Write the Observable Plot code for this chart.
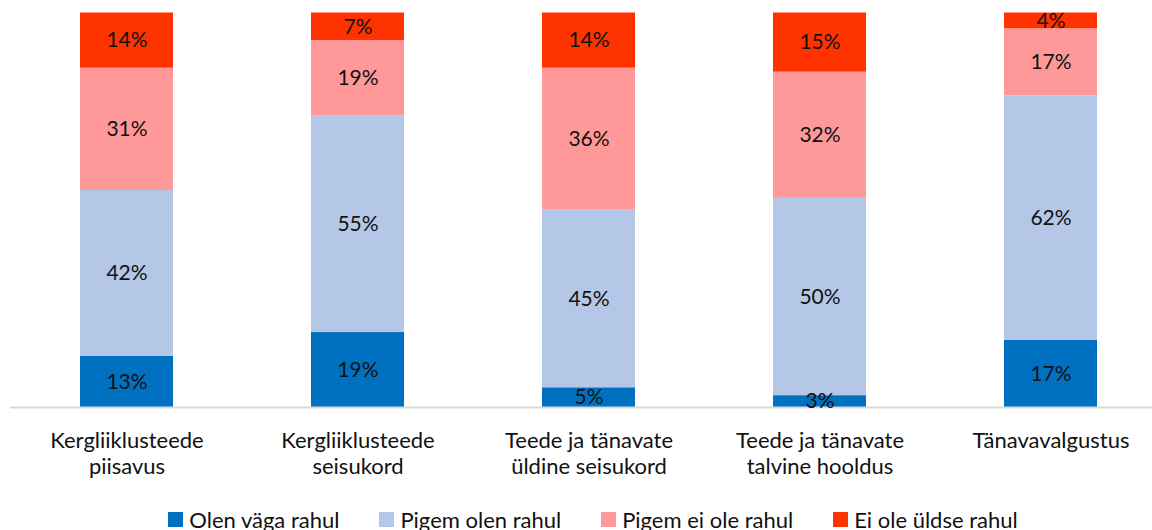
<!DOCTYPE html>
<html>
<head>
<meta charset="utf-8">
<script src="https://cdn.jsdelivr.net/npm/d3@7"></script>
<script src="https://cdn.jsdelivr.net/npm/@observablehq/plot@0.6"></script>
<style>
  html, body { margin: 0; padding: 0; background: #fff; }
  body { width: 1152px; height: 530px; overflow: hidden; font-family: Lato, "Open Sans", sans-serif; }
  #legend { display: flex; justify-content: center; gap: 40px; font-size: 22px; color: #111; margin-top: 7px; padding-left: 34px; line-height: 1.15; }
  #legend .item { display: flex; align-items: center; gap: 6px; }
  #legend .sw { width: 15px; height: 15px; display: inline-block; }
</style>
</head>
<body>
<div id="chart"></div>
<div id="legend"></div>
<script>
const categories = [
  "Kergliiklusteede\npiisavus",
  "Kergliiklusteede\nseisukord",
  "Teede ja tänavate\nüldine seisukord",
  "Teede ja tänavate\ntalvine hooldus",
  "Tänavavalgustus"
];
const seriesNames = ["Olen väga rahul", "Pigem olen rahul", "Pigem ei ole rahul", "Ei ole üldse rahul"];
const olenVagaRahul   = [13, 19, 5, 3, 17];
const pigemOlenRahul  = [42, 55, 45, 50, 62];
const pigemEiOleRahul = [31, 19, 36, 32, 17];
const eiOleUldseRahul = [14, 7, 14, 15, 4];
const seriesColors = ["#0070C0", "#B4C7E7", "#FF9999", "#FF3300"];

const seriesValues = [olenVagaRahul, pigemOlenRahul, pigemEiOleRahul, eiOleUldseRahul];
const data = [];
seriesNames.forEach((s, i) => {
  categories.forEach((c, j) => {
    data.push({category: c, series: s, value: seriesValues[i][j]});
  });
});

const H = 500;
const plot = Plot.plot({
  width: 1152,
  height: H,
  marginTop: 12.5,
  marginBottom: H - 407,
  marginLeft: 10,
  marginRight: 0,
  style: {fontFamily: "Lato, 'Open Sans', sans-serif", background: "#fff", color: "#111"},
  x: {domain: categories, range: [10.4, 1166], padding: 0, label: null},
  y: {domain: [0, 100], axis: null},
  color: {domain: seriesNames, range: seriesColors},
  marks: [
    Plot.barY(data, {
      x: "category", y: "value", z: "series", fill: "series",
      order: seriesNames, insetLeft: 69, insetRight: 69
    }),
    Plot.ruleY([0], {stroke: "#d9d9d9", strokeWidth: 2}),
    Plot.text(data, Plot.stackY({
      x: "category", y: "value", z: "series",
      order: seriesNames,
      text: d => d.value + "%",
      fontSize: 21, fill: "#111"
    })),
    Plot.axisX({
      tickSize: 0, tickPadding: 21, fontSize: 22, lineHeight: 1.22,
      fill: "#111", label: null
    })
  ]
});
document.getElementById("chart").appendChild(plot);

const legend = document.getElementById("legend");
seriesNames.forEach((s, i) => {
  const item = document.createElement("div");
  item.className = "item";
  const sw = document.createElement("span");
  sw.className = "sw";
  sw.style.background = seriesColors[i];
  const t = document.createElement("span");
  t.textContent = s;
  item.appendChild(sw);
  item.appendChild(t);
  legend.appendChild(item);
});
</script>
</body>
</html>
